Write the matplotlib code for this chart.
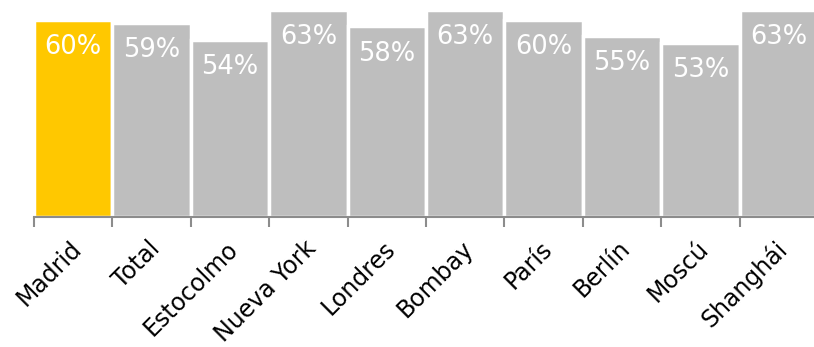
import matplotlib.pyplot as plt
import matplotlib.transforms as mtransforms
import numpy as np

# data
cities = ['Madrid', 'Total', 'Estocolmo', 'Nueva York', 'Londres',
          'Bombay', 'París', 'Berlín', 'Moscú', 'Shanghái']
pct = [60, 59, 54, 63, 58, 63, 60, 55, 53, 63]

colors = ['#FFC800'] + ['#BEBEBE'] * (len(cities) - 1)

fig = plt.figure(figsize=(8.14, 3.47), dpi=100)
ax = fig.add_axes([34 / 814, 130 / 347, 784 / 814, 207 / 347])

x = np.arange(len(cities))
bars = ax.bar(x, pct, width=1.0, color=colors, edgecolor='white', linewidth=2.5)

for xi, v in zip(x, pct):
    ax.annotate(f'{v}%', (xi, v), xytext=(0, -19.5), textcoords='offset points',
                ha='center', va='center', color='white', fontsize=18.5)

ax.set_xlim(-0.5, len(cities) - 0.5)
ax.set_ylim(0, 63)
ax.set_yticks([])
for s in ['top', 'right', 'left']:
    ax.spines[s].set_visible(False)
ax.spines['bottom'].set_color('#8C8C8C')
ax.spines['bottom'].set_linewidth(1.5)

ax.set_xticks(x)
ax.set_xticklabels(cities, rotation=45, ha='right', rotation_mode='anchor', fontsize=17)
ax.tick_params(axis='x', which='major', length=0, pad=14)
shift = mtransforms.ScaledTranslation(-4 / 100, 0, fig.dpi_scale_trans)
for lbl in ax.get_xticklabels():
    lbl.set_transform(lbl.get_transform() + shift)
ax.set_xticks(x - 0.5, minor=True)
ax.tick_params(axis='x', which='minor', length=7, width=1.5, color='#8C8C8C')

fig.savefig('out.png', dpi=100)
